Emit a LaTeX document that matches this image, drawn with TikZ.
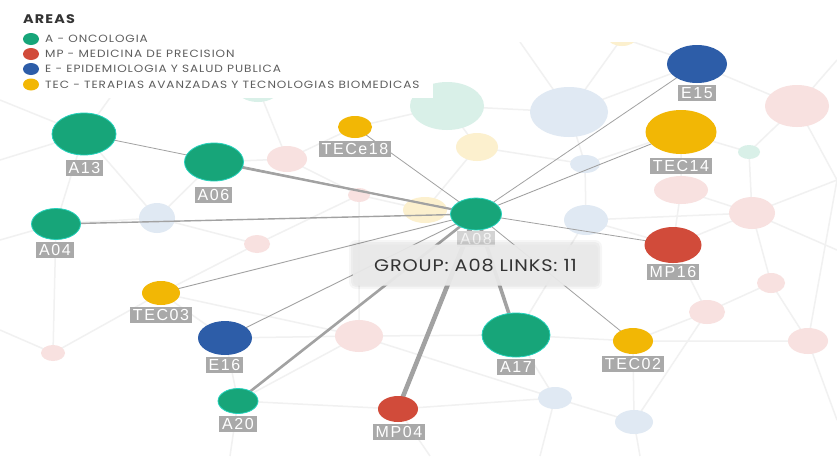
\documentclass[tikz,border=0pt]{standalone}
\usepackage{fontspec}
\usetikzlibrary{shapes.geometric}
\newfontfamily\labfont[LetterSpace=10]{Liberation Sans}
\newfontfamily\legfont[LetterSpace=9,FakeStretch=1.15]{Poppins}
\newfontfamily\tipfont[LetterSpace=5,FakeStretch=1.15]{Poppins}
\definecolor{cgreen}{HTML}{17A579}
\definecolor{cred}{HTML}{D14B3A}
\definecolor{cblue}{HTML}{2D5DA8}
\definecolor{cyellow}{HTML}{F2B705}
\definecolor{fpink}{HTML}{F8E1E0}
\definecolor{fblue}{HTML}{E0E9F3}
\definecolor{fgreen}{HTML}{D9F0E8}
\definecolor{fyellow}{HTML}{FCF0CE}
\definecolor{labgray}{HTML}{A9A9A9}
\definecolor{linkgray}{HTML}{A2A2A2}
\definecolor{bgline}{HTML}{F1F1F1}
\definecolor{legtext}{HTML}{5E5E5E}
\begin{document}
\begin{tikzpicture}[x=1pt,y=-1pt,
  bub/.style={ellipse,inner sep=0pt,minimum width=2*#1},
  faint/.style={ellipse,inner sep=0pt,draw=none},
  lab/.style={fill=labgray,text=white,inner xsep=3pt,inner ysep=2.5pt,text height=11.5pt,text depth=0pt,font=\labfont\fontsize{16}{16}\selectfont},
  link/.style={draw=linkgray,line width=#1},
  bgl/.style={draw=bgline,line width=1.5pt},
  legdot/.style={ellipse,inner sep=0pt,minimum width=16pt,minimum height=12pt},
  legtxt/.style={anchor=west,inner sep=0pt,text=legtext,font=\legfont\fontsize{10.5}{11}\selectfont}]
\useasboundingbox (0,0) rectangle (837,456);
\fill[white] (0,0) rectangle (837,456);
% ---------- faint background network ----------
\begin{scope}
\clip (0,42) rectangle (837,456);
\coordinate (e1) at (0,160);
\coordinate (e2) at (0,240);
\coordinate (e3) at (0,330);
\coordinate (e4) at (837,60);
\coordinate (e5) at (837,250);
\coordinate (e6) at (837,420);
\coordinate (e7) at (230,456);
\coordinate (e8) at (430,456);
\coordinate (e9) at (540,456);
\coordinate (e10) at (640,456);
\coordinate (e11) at (330,42);
\coordinate (e12) at (520,42);
\coordinate (e13) at (150,42);
\coordinate (e14) at (837,180);
\coordinate (e15) at (0,100);
\coordinate (f1) at (447,106);
\coordinate (f2) at (569,112);
\coordinate (f3) at (477,147);
\coordinate (f4) at (585,164);
\coordinate (f5) at (586,220);
\coordinate (f6) at (681,190);
\coordinate (f7) at (749,152);
\coordinate (f8) at (797,106);
\coordinate (f9) at (752,213);
\coordinate (f10) at (771,283);
\coordinate (f11) at (707,312);
\coordinate (f12) at (808,341);
\coordinate (f13) at (555,398);
\coordinate (f14) at (634,422);
\coordinate (f15) at (359,336);
\coordinate (f16) at (53,353);
\coordinate (f17) at (157,218);
\coordinate (f18) at (287,159);
\coordinate (f19) at (359,195);
\coordinate (f20) at (257,244);
\coordinate (f21) at (425,210);
\coordinate (f22) at (258,88);
\coordinate (f23) at (622,38);
\coordinate (m1) at (84,134);
\coordinate (m2) at (214,162);
\coordinate (m3) at (56,224);
\coordinate (m4) at (697,64);
\coordinate (m5) at (681,132);
\coordinate (m6) at (673,245);
\coordinate (m7) at (516,335);
\coordinate (m8) at (633,341);
\coordinate (m9) at (161,293);
\coordinate (m10) at (225,338);
\coordinate (m11) at (238,401);
\coordinate (m12) at (398,409);
\coordinate (m13) at (355,127);
\draw[bgl] (f22)--(f18) (f18)--(m2) (f1)--(f2) (f2)--(m4) (f2)--(f4) (f4)--(f5)
  (f5)--(m6) (f8)--(m4) (f8)--(f7) (f7)--(m5) (f9)--(f7) (f9)--(m6) (f10)--(f9)
  (f10)--(f11) (f11)--(m8) (f12)--(f10) (f12)--(m8) (f13)--(m7) (f13)--(f14)
  (f14)--(m8) (f15)--(m10) (f15)--(m7) (f16)--(m9) (f16)--(e3) (f17)--(m3)
  (f17)--(m2) (f20)--(f17) (f20)--(m9) (f21)--(f19) (f19)--(f18) (f3)--(f1)
  (f3)--(f21) (m1)--(e1) (m3)--(e2) (e4)--(f8) (e5)--(f9) (e6)--(f12)
  (e7)--(m11) (e8)--(m12) (e9)--(f13) (e10)--(f14) (m11)--(m12) (m12)--(f13)
  (m11)--(f15) (m1)--(e13) (m1)--(m3) (m1)--(f17) (m9)--(m10) (m10)--(m11)
  (f15)--(f13) (f15)--(f19) (f5)--(f9) (f6)--(f9) (f6)--(m6) (f6)--(m5)
  (f3)--(f4) (f4)--(m5) (f1)--(e11) (f2)--(e12) (f23)--(f2) (f23)--(m4)
  (m8)--(f11) (m7)--(m8) (f14)--(f11) (m6)--(f11) (m13)--(f1) (m13)--(f18)
  (e14)--(f8) (e14)--(f9) (m3)--(f16) (e15)--(m1) (m9)--(f15) (f20)--(f19)
  (m7)--(f5) (f12)--(e14);
\node[faint,fill=fgreen,minimum width=74pt,minimum height=48pt] (nf1) at (f1) {};
\node[faint,fill=fblue,minimum width=78pt,minimum height=50pt] (nf2) at (f2) {};
\node[faint,fill=fyellow,minimum width=42pt,minimum height=28pt] (nf3) at (f3) {};
\node[faint,fill=fblue,minimum width=30pt,minimum height=18pt] (nf4) at (f4) {};
\node[faint,fill=fblue,minimum width=44pt,minimum height=30pt] (nf5) at (f5) {};
\node[faint,fill=fpink,minimum width=54pt,minimum height=28pt] (nf6) at (f6) {};
\node[faint,fill=fgreen,minimum width=22pt,minimum height=14pt] (nf7) at (f7) {};
\node[faint,fill=fpink,minimum width=64pt,minimum height=42pt] (nf8) at (f8) {};
\node[faint,fill=fpink,minimum width=46pt,minimum height=32pt] (nf9) at (f9) {};
\node[faint,fill=fpink,minimum width=28pt,minimum height=20pt] (nf10) at (f10) {};
\node[faint,fill=fpink,minimum width=36pt,minimum height=24pt] (nf11) at (f11) {};
\node[faint,fill=fpink,minimum width=40pt,minimum height=26pt] (nf12) at (f12) {};
\node[faint,fill=fblue,minimum width=34pt,minimum height=22pt] (nf13) at (f13) {};
\node[faint,fill=fblue,minimum width=38pt,minimum height=24pt] (nf14) at (f14) {};
\node[faint,fill=fpink,minimum width=48pt,minimum height=32pt] (nf15) at (f15) {};
\node[faint,fill=fpink,minimum width=24pt,minimum height=16pt] (nf16) at (f16) {};
\node[faint,fill=fblue,minimum width=36pt,minimum height=30pt] (nf17) at (f17) {};
\node[faint,fill=fpink,minimum width=40pt,minimum height=26pt] (nf18) at (f18) {};
\node[faint,fill=fpink,minimum width=22pt,minimum height=14pt] (nf19) at (f19) {};
\node[faint,fill=fpink,minimum width=26pt,minimum height=18pt] (nf20) at (f20) {};
\node[faint,fill=fyellow,minimum width=44pt,minimum height=26pt] (nf21) at (f21) {};
\node[faint,fill=fgreen,minimum width=44pt,minimum height=28pt] (nf22) at (f22) {};
\node[faint,fill=fyellow,minimum width=28pt,minimum height=16pt] (nf23) at (f23) {};
\end{scope}
% ---------- main nodes (placed first, links drawn behind) ----------
\node[bub=25.5pt,minimum height=32pt] (A08) at (476,214) {};
\node[bub=32pt,minimum height=42pt] (A13) at (84,134) {};
\node[bub=29.5pt,minimum height=38pt] (A06) at (214,162) {};
\node[bub=24.5pt,minimum height=31pt] (A04) at (56,224) {};
\node[bub=17pt,minimum height=22pt] (TECe18) at (355,127) {};
\node[bub=30pt,minimum height=38pt] (E15) at (697,64) {};
\node[bub=35.5pt,minimum height=44pt] (TEC14) at (681,132) {};
\node[bub=28.5pt,minimum height=36pt] (MP16) at (673,245) {};
\node[bub=34pt,minimum height=44pt] (A17) at (516,335) {};
\node[bub=20pt,minimum height=26pt] (TEC02) at (633,341) {};
\node[bub=19pt,minimum height=24pt] (TEC03) at (161,293) {};
\node[bub=27pt,minimum height=34pt] (E16) at (225,338) {};
\node[bub=20pt,minimum height=25pt] (A20) at (238,401) {};
\node[bub=20pt,minimum height=26pt] (MP04) at (398,409) {};
% links
\draw[link=0.8pt] (A13.center)--(A08.center);
\draw[link=2.2pt] (A06.center)--(A08.center);
\draw[link=1.4pt] (A04.center)--(A08.center);
\draw[link=0.8pt] (TECe18.center)--(A08.center);
\draw[link=0.8pt] (E15.center)--(A08.center);
\draw[link=0.9pt] (TEC14.center)--(A08.center);
\draw[link=0.8pt] (MP16.center)--(A08.center);
\draw[link=0.8pt] (TEC02.center)--(A08.center);
\draw[link=3.6pt] (A17.center)--(A08.center);
\draw[link=4.6pt] (MP04.center)--(A08.center);
\draw[link=2.6pt] (A20.center)--(A08.center);
\draw[link=0.9pt] (E16.center)--(A08.center);
\draw[link=0.9pt] (TEC03.center)--(A08.center);
% fill bubbles over links
\path[fill=cgreen,draw=cgreen!55!cyan!90!white,line width=0.8pt]
  (A08.center) ellipse[x radius=25.5, y radius=16]
  (A13.center) ellipse[x radius=32, y radius=21]
  (A06.center) ellipse[x radius=29.5, y radius=19]
  (A04.center) ellipse[x radius=24.5, y radius=15.5]
  (A17.center) ellipse[x radius=34, y radius=22]
  (A20.center) ellipse[x radius=20, y radius=12.5];
\path[fill=cyellow]
  (TECe18.center) ellipse[x radius=17, y radius=11]
  (TEC14.center) ellipse[x radius=35.5, y radius=22]
  (TEC02.center) ellipse[x radius=20, y radius=13]
  (TEC03.center) ellipse[x radius=19, y radius=12];
\path[fill=cblue]
  (E15.center) ellipse[x radius=30, y radius=19]
  (E16.center) ellipse[x radius=27, y radius=17];
\path[fill=cred]
  (MP16.center) ellipse[x radius=28.5, y radius=18]
  (MP04.center) ellipse[x radius=20, y radius=13];
% labels
\node[lab] (lA13) at (84.5,168) {A13};
\node[lab] (lA06) at (213.5,195) {A06};
\node[lab] (lTECe18) at (355,149) {TECe18};
\node[lab] (lA04) at (55,250) {A04};
\node[lab] (lE15) at (697,93) {E15};
\node[lab] (lTEC14) at (681,166) {TEC14};
\node[lab] (lMP16) at (673,272) {MP16};
\node[lab] (lA17) at (516,367) {A17};
\node[lab] (lTEC02) at (633,364) {TEC02};
\node[lab] (lTEC03) at (161,315) {TEC03};
\node[lab] (lE16) at (224.5,365) {E16};
\node[lab] (lA20) at (238,424) {A20};
\node[lab] (lMP04) at (399,432) {MP04};
\node[lab,fill=labgray!50!white,text=white!92!gray] (lA08) at (476,239) {A08};
% tooltip
\fill[black,opacity=0.035,rounded corners=7pt] (349,240) rectangle (602,289);
\fill[black,opacity=0.035,rounded corners=5pt] (351,242) rectangle (600,287);
\node[fill=gray!17,fill opacity=0.94,text opacity=1,rounded corners=4pt,minimum width=245pt,minimum height=41pt,inner sep=0pt,text=black!80,font=\tipfont\fontsize{16.8}{17}\selectfont] (tip) at (475.5,265) {GROUP: A08 LINKS: 11};
% legend
\fill[white] (0,0) rectangle (433,98);
\node[anchor=west,inner sep=0pt,text=black!80,font=\legfont\bfseries\fontsize{12.5}{13}\selectfont] (legtitle) at (23,19) {AREAS};
\node[legdot,fill=cgreen] (d1) at (31,39) {};
\node[legdot,fill=cred] (d2) at (31,54) {};
\node[legdot,fill=cblue] (d3) at (31,69) {};
\node[legdot,fill=cyellow] (d4) at (31,84.5) {};
\node[legtxt] (t1) at (45,39) {A - ONCOLOGIA};
\node[legtxt] (t2) at (45,54) {MP - MEDICINA DE PRECISION};
\node[legtxt] (t3) at (45,69) {E - EPIDEMIOLOGIA Y SALUD PUBLICA};
\node[legtxt] (t4) at (45,84.5) {TEC - TERAPIAS AVANZADAS Y TECNOLOGIAS BIOMEDICAS};
\end{tikzpicture}
\end{document}
